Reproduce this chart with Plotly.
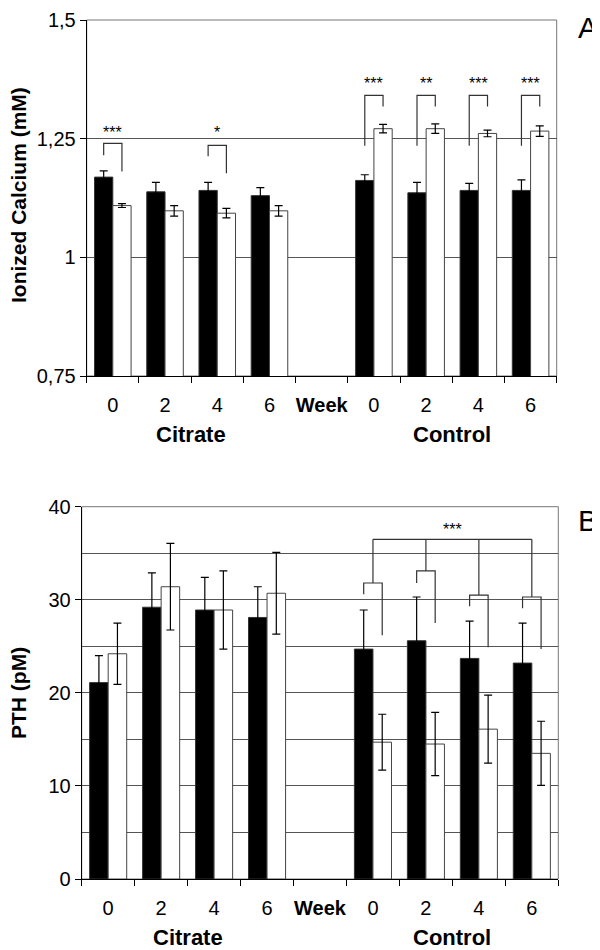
import plotly.graph_objects as go

# =========================
# DATA
# =========================

week_pos = [0, 1, 2, 3, 5, 6, 7, 8]
tick_labels = ["0", "2", "4", "6", "<b>Week</b>", "0", "2", "4", "6"]
groups = ["Citrate", "Control"]

# Panel A: ionized calcium (mM)
ca_black = [1.169, 1.138, 1.141, 1.130, 1.162, 1.136, 1.141, 1.141]
ca_black_err = [0.013, 0.020, 0.017, 0.017, 0.012, 0.022, 0.015, 0.022]
ca_white = [1.109, 1.098, 1.093, 1.098, 1.271, 1.271, 1.261, 1.266]
ca_white_err = [0.004, 0.011, 0.010, 0.011, 0.009, 0.010, 0.007, 0.011]

# Panel B: PTH (pM)
pth_black = [21.1, 29.2, 28.9, 28.1, 24.7, 25.6, 23.7, 23.2]
pth_black_err = [2.9, 3.7, 3.5, 3.3, 4.2, 4.7, 4.0, 4.3]
pth_white = [24.2, 31.4, 28.9, 30.7, 14.7, 14.5, 16.1, 13.5]
pth_white_err = [3.3, 4.65, 4.2, 4.4, 3.0, 3.4, 3.65, 3.45]

FONT = "Arial, Liberation Sans, sans-serif"
# the page body has an 8px margin, so the figure is placed at (8, 8)
OX, OY = 8, 8
W, H = 600 - OX, 950 - OY
OFF = 0.175  # half distance between paired bar centres (category units)

# page-pixel boxes of the two plot areas: (left, right, top, bottom)
box_a = (86.7, 556.7, 20, 376)
box_b = (81.7, 558.3, 506.7, 879)


def px(x):
    return (x - OX) / W


def py(y):
    return 1 - (y - OY) / H


def dom_x(b):
    return [px(b[0]), px(b[1])]


def dom_y(b):
    return [py(b[3]), py(b[2])]


fig = go.Figure()


def add_pair(xa, ya, black, black_err, white, white_err):
    fig.add_trace(go.Bar(
        x=week_pos, y=black, xaxis=xa, yaxis=ya,
        marker=dict(color="black", line=dict(color="#333", width=1)),
        error_y=dict(type="data", array=black_err, color="black", thickness=1.2, width=4),
        showlegend=False, offsetgroup="b" + xa
    ))
    fig.add_trace(go.Bar(
        x=week_pos, y=white, xaxis=xa, yaxis=ya,
        marker=dict(color="white", line=dict(color="#444", width=1)),
        error_y=dict(type="data", array=white_err, color="black", thickness=1.2, width=4),
        showlegend=False, offsetgroup="w" + xa
    ))


add_pair("x", "y", ca_black, ca_black_err, ca_white, ca_white_err)
add_pair("x2", "y2", pth_black, pth_black_err, pth_white, pth_white_err)

xaxis_common = dict(
    range=[-0.5, 8.5], tickmode="array", tickvals=list(range(9)), ticktext=tick_labels,
    ticks="", showgrid=False, zeroline=False, showline=True, linecolor="black", linewidth=1,
    tickfont=dict(family=FONT, size=20, color="black"), ticklabelstandoff=11,
    automargin=False,
    minor=dict(tickmode="array", tickvals=[i - 0.5 for i in range(10)],
               ticks="outside", ticklen=6, tickcolor="black", tickwidth=1, showgrid=False),
)

yaxis_common = dict(
    tickmode="array", ticks="outside", ticklen=6, tickcolor="black",
    showgrid=True, gridcolor="#555", gridwidth=1, zeroline=False,
    showline=True, linecolor="black", linewidth=1, automargin=False,
    ticklabeloverflow="allow",
    tickfont=dict(family=FONT, size=20, color="black"),
)

fig.update_layout(
    width=W, height=H, autosize=False,
    margin=dict(l=0, r=0, t=0, b=0),
    paper_bgcolor="white", plot_bgcolor="white",
    barmode="group", bargap=0.3, bargroupgap=0.0,
    xaxis=dict(domain=dom_x(box_a), anchor="y", **xaxis_common),
    yaxis=dict(domain=dom_y(box_a), anchor="x", range=[0.75, 1.5],
               tickvals=[0.75, 1, 1.25, 1.5], ticktext=["0,75", "1", "1,25", "1,5"],
               **yaxis_common),
    xaxis2=dict(domain=dom_x(box_b), anchor="y2", **xaxis_common),
    yaxis2=dict(domain=dom_y(box_b), anchor="x2", range=[0, 40],
                tickvals=[0, 10, 20, 30, 40],
                minor=dict(dtick=5, showgrid=True, gridcolor="#555", gridwidth=1, ticks=""),
                **yaxis_common),
)

# plot area borders (grey, right/top)
for xr, yr in [("x", "y"), ("x2", "y2")]:
    fig.add_shape(type="rect", xref=xr + " domain", yref=yr + " domain",
                  x0=0, x1=1, y0=0, y1=1, line=dict(color="#777", width=1), layer="below")

# =========================
# SIGNIFICANCE BRACKETS
# =========================
LINE = dict(color="#333", width=1.2)


def bracket(xr, yr, xc, top, left_bot, right_bot):
    xl, xrr = xc - OFF, xc + OFF
    fig.add_shape(type="path", xref=xr, yref=yr,
                  path=f"M {xl} {left_bot} L {xl} {top} L {xrr} {top} L {xrr} {right_bot}",
                  line=LINE)


def stars(xr, yr, x, y, text):
    fig.add_annotation(x=x, y=y, xref=xr, yref=yr, text=text, showarrow=False,
                       xanchor="center", yanchor="middle",
                       font=dict(family=FONT, size=16, color="black"))


# Panel A
bracket("x", "y", 0, 1.240, 1.215, 1.181)
stars("x", "y", 0, 1.262, "***")
bracket("x", "y", 2, 1.236, 1.213, 1.177)
stars("x", "y", 2, 1.262, "*")
for xc, s in zip([5, 6, 7, 8], ["***", "**", "***", "***"]):
    bracket("x", "y", xc, 1.341, 1.235, 1.318)
    stars("x", "y", xc, 1.367, s)

# Panel B
b_tops = [31.8, 33.1, 30.5, 30.3]
b_left = [30.6, 31.8, 29.3, 29.1]
b_right = [26.2, 27.5, 24.9, 24.7]
for xc, t, lb, rb in zip([5, 6, 7, 8], b_tops, b_left, b_right):
    bracket("x2", "y2", xc, t, lb, rb)
    fig.add_shape(type="line", xref="x2", yref="y2", x0=xc, x1=xc, y0=t, y1=36.5, line=LINE)
fig.add_shape(type="line", xref="x2", yref="y2", x0=5, x1=8, y0=36.5, y1=36.5, line=LINE)
stars("x2", "y2", 6.5, 37.5, "***")

# =========================
# LABELS
# =========================
for xr, yr in [("x", "y"), ("x2", "y2")]:
    for xc, g in zip([1.5, 6.5], groups):
        fig.add_annotation(x=xc, y=0, xref=xr, yref=yr + " domain", text=f"<b>{g}</b>",
                           showarrow=False, yshift=-58, xanchor="center", yanchor="middle",
                           font=dict(family=FONT, size=22, color="black"))

fig.add_annotation(x=px(18), y=py(195), xref="paper", yref="paper",
                   text="<b>Ionized Calcium (mM)</b>", textangle=-90, showarrow=False,
                   xanchor="center", yanchor="middle",
                   font=dict(family=FONT, size=21, color="black"))
fig.add_annotation(x=px(18), y=py(693), xref="paper", yref="paper",
                   text="<b>PTH (pM)</b>", textangle=-90, showarrow=False,
                   xanchor="center", yanchor="middle",
                   font=dict(family=FONT, size=21, color="black"))

fig.add_annotation(x=px(588), y=py(28), xref="paper", yref="paper", text="A",
                   showarrow=False, xanchor="center", yanchor="middle",
                   font=dict(family=FONT, size=30, color="black"))
fig.add_annotation(x=px(588), y=py(520), xref="paper", yref="paper", text="B",
                   showarrow=False, xanchor="center", yanchor="middle",
                   font=dict(family=FONT, size=30, color="black"))

fig.write_html("out.html")
